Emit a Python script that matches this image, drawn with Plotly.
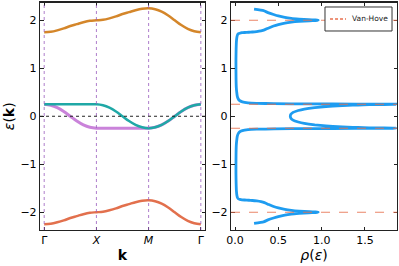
import plotly.graph_objects as go

# ---------------- data ----------------
k_labels = ["Γ", "<i>X</i>", "<i>M</i>", "Γ"]
k_ticks = [0, 1, 2, 3]
k_path = [0, 0.125, 0.25, 0.375, 0.5, 0.625, 0.75, 0.875,
          1, 1.125, 1.25, 1.375, 1.5, 1.625, 1.75, 1.875,
          2, 2.125, 2.25, 2.375, 2.5, 2.625, 2.75, 2.875, 3]

band_top = [1.75, 1.76, 1.79, 1.83, 1.88, 1.92, 1.96, 1.99,
            2.00, 2.01, 2.04, 2.08, 2.13, 2.17, 2.21, 2.24,
            2.25, 2.23, 2.18, 2.10, 2.00, 1.90, 1.82, 1.77, 1.75]
band_bottom = [-2.25, -2.24, -2.21, -2.17, -2.12, -2.08, -2.04, -2.01,
               -2.00, -1.99, -1.96, -1.92, -1.87, -1.83, -1.79, -1.76,
               -1.75, -1.77, -1.82, -1.90, -2.00, -2.10, -2.18, -2.23, -2.25]
band_cyan = [0.25, 0.25, 0.25, 0.25, 0.25, 0.25, 0.25, 0.25,
             0.25, 0.23, 0.18, 0.10, 0.00, -0.10, -0.18, -0.23,
             -0.25, -0.23, -0.18, -0.10, 0.00, 0.10, 0.18, 0.23, 0.25]
band_purple = [0.25, 0.23, 0.18, 0.10, 0.00, -0.10, -0.18, -0.23,
               -0.25, -0.25, -0.25, -0.25, -0.25, -0.25, -0.25, -0.25,
               -0.25, -0.23, -0.18, -0.10, 0.00, 0.10, 0.18, 0.23, 0.25]

dos_eps = [-2.23, -2.20, -2.16, -2.12, -2.09, -2.06, -2.04, -2.025, -2.012, -2.005,
           -2.0, -1.995, -1.988, -1.975, -1.96, -1.94, -1.91, -1.88, -1.84, -1.80,
           -1.78, -1.765, -1.755, -1.75, -1.745, -1.74, -1.73, -1.72, -1.70, -1.65,
           -1.55, -1.4, -1.2, -1.0, -0.8, -0.6, -0.5, -0.42, -0.37, -0.33,
           -0.30, -0.28, -0.27, -0.263, -0.257, -0.253, -0.25, -0.247, -0.243, -0.238,
           -0.23, -0.22, -0.21, -0.20, -0.18, -0.15, -0.12, -0.08, -0.04, 0.0,
           0.04, 0.08, 0.12, 0.15, 0.18, 0.20, 0.21, 0.22, 0.23, 0.238,
           0.243, 0.247, 0.25, 0.253, 0.257, 0.263, 0.27, 0.28, 0.30, 0.33,
           0.37, 0.42, 0.5, 0.6, 0.8, 1.0, 1.2, 1.4, 1.55, 1.65,
           1.70, 1.72, 1.73, 1.74, 1.745, 1.75, 1.755, 1.765, 1.78, 1.80,
           1.84, 1.88, 1.91, 1.94, 1.96, 1.975, 1.988, 1.995, 2.0, 2.005,
           2.012, 2.025, 2.04, 2.06, 2.09, 2.12, 2.16, 2.20, 2.23]
dos_rho = [0.22, 0.33, 0.38, 0.445, 0.50, 0.575, 0.65, 0.74, 0.85, 0.93,
           0.96, 0.93, 0.86, 0.74, 0.65, 0.575, 0.50, 0.445, 0.39, 0.34,
           0.30, 0.25, 0.20, 0.16, 0.11, 0.08, 0.055, 0.04, 0.03, 0.022,
           0.016, 0.013, 0.011, 0.011, 0.012, 0.015, 0.02, 0.026, 0.035, 0.05,
           0.085, 0.15, 0.25, 0.45, 0.85, 1.4, 1.86, 1.82, 1.62, 1.48,
           1.36, 1.24, 1.13, 1.05, 0.92, 0.80, 0.73, 0.67, 0.645, 0.638,
           0.645, 0.67, 0.73, 0.80, 0.92, 1.05, 1.13, 1.24, 1.36, 1.48,
           1.62, 1.82, 1.86, 1.4, 0.85, 0.45, 0.25, 0.15, 0.085, 0.05,
           0.035, 0.026, 0.02, 0.015, 0.012, 0.011, 0.011, 0.013, 0.016, 0.022,
           0.03, 0.04, 0.055, 0.08, 0.11, 0.16, 0.20, 0.25, 0.30, 0.34,
           0.39, 0.445, 0.50, 0.575, 0.65, 0.74, 0.86, 0.93, 0.96, 0.93,
           0.85, 0.74, 0.65, 0.575, 0.50, 0.445, 0.38, 0.33, 0.22]

van_hove = [-2.0, -0.25, 0.25, 2.0]
legend_label = "Van-Hove"
y_ticks = [-2, -1, 0, 1, 2]
y_tick_text = ["−2", "−1", "0", "1", "2"]
rho_ticks = [0.0, 0.5, 1.0, 1.5]
rho_tick_text = ["0.0", "0.5", "1.0", "1.5"]

# ---------------- figure ----------------
FONT = "DejaVu Sans"
VH_COLOR = "#e8704f"
fig = go.Figure()

fig.add_trace(go.Scatter(x=k_path, y=band_top, mode="lines", line=dict(color="#d4862a", width=2.5, shape="spline"),
                         showlegend=False, xaxis="x", yaxis="y"))
fig.add_trace(go.Scatter(x=k_path, y=band_bottom, mode="lines", line=dict(color="#e2704d", width=2.5, shape="spline"),
                         showlegend=False, xaxis="x", yaxis="y"))
fig.add_trace(go.Scatter(x=k_path, y=band_purple, mode="lines", line=dict(color="#c475d6", width=3, shape="spline"),
                         opacity=0.9, showlegend=False, xaxis="x", yaxis="y"))
fig.add_trace(go.Scatter(x=k_path, y=band_cyan, mode="lines", line=dict(color="#1fa8a6", width=2.5, shape="spline"),
                         showlegend=False, xaxis="x", yaxis="y"))

fig.add_trace(go.Scatter(x=dos_rho, y=dos_eps, mode="lines",
                         line=dict(color="#1e9cf0", width=2.8, shape="spline", smoothing=0.4),
                         showlegend=False, xaxis="x2", yaxis="y2"))

shapes = []
for kt in k_ticks:
    shapes.append(dict(type="line", xref="x", yref="y domain", x0=kt, x1=kt, y0=0, y1=1,
                       line=dict(color="#9b5fc0", width=1, dash="dot"), opacity=0.8, layer="above"))
shapes.append(dict(type="line", xref="x domain", yref="y", x0=0, x1=1, y0=0, y1=0,
                   line=dict(color="#222222", width=1, dash="dot"), layer="above"))
for vh in van_hove:
    shapes.append(dict(type="line", xref="x2 domain", yref="y2", x0=0, x1=1, y0=vh, y1=vh,
                       line=dict(color=VH_COLOR, width=1, dash="dash"), opacity=0.85, layer="above"))

# legend box (matplotlib-style) in the right panel's corner
shapes.append(dict(type="rect", xref="paper", yref="paper", x0=0.8145, x1=0.9825, y0=0.8835, y1=0.9737,
                   line=dict(color="#333333", width=1), fillcolor="white", layer="above"))
shapes.append(dict(type="line", xref="paper", yref="paper", x0=0.8271, x1=0.8672, y0=0.9286, y1=0.9286,
                   line=dict(color=VH_COLOR, width=1.5, dash="3px,2px"), layer="above"))
annotations = [dict(text=legend_label, xref="paper", yref="paper", x=0.8772, y=0.9286,
                    xanchor="left", yanchor="middle", showarrow=False,
                    font=dict(family=FONT, size=7.5, color="#222222"))]

axis_common = dict(showline=True, linecolor="#222222", linewidth=1.2, mirror="ticks",
                   ticks="inside", ticklen=3.5, tickwidth=1, tickcolor="#222222",
                   showgrid=False, zeroline=False, automargin=False,
                   tickfont=dict(family=FONT, size=11, color="black"))

fig.update_layout(
    width=399, height=266,
    margin=dict(l=0, r=0, t=0, b=0, autoexpand=False),
    paper_bgcolor="white", plot_bgcolor="white",
    font=dict(family=FONT, color="black"),
    shapes=shapes,
    annotations=annotations,
    showlegend=False,
    xaxis=dict(domain=[0.1003, 0.5138], range=[-0.08, 3.08], tickvals=k_ticks, ticktext=k_labels,
               anchor="y", title=dict(text="<b>k</b>", font=dict(size=14, family=FONT), standoff=3),
               **axis_common),
    yaxis=dict(domain=[0.1353, 0.9906], range=[-2.37, 2.37], tickvals=y_ticks, ticktext=y_tick_text,
               anchor="x", title=dict(text="<i>ε</i>(<b>k</b>)", font=dict(size=14, family=FONT), standoff=2),
               **axis_common),
    xaxis2=dict(domain=[0.579, 0.995], range=[-0.046, 1.87], tickvals=rho_ticks, ticktext=rho_tick_text,
                anchor="y2", title=dict(text="<i>ρ</i>(<i>ε</i>)", font=dict(size=14, family=FONT), standoff=3),
                **axis_common),
    yaxis2=dict(domain=[0.1353, 0.9906], range=[-2.37, 2.37], tickvals=y_ticks, ticktext=y_tick_text,
                anchor="x2", **axis_common),
)

fig.write_html("out.html", config={"displayModeBar": False, "staticPlot": True},
               post_script="document.body.style.margin='0px';document.body.style.padding='0px';")
